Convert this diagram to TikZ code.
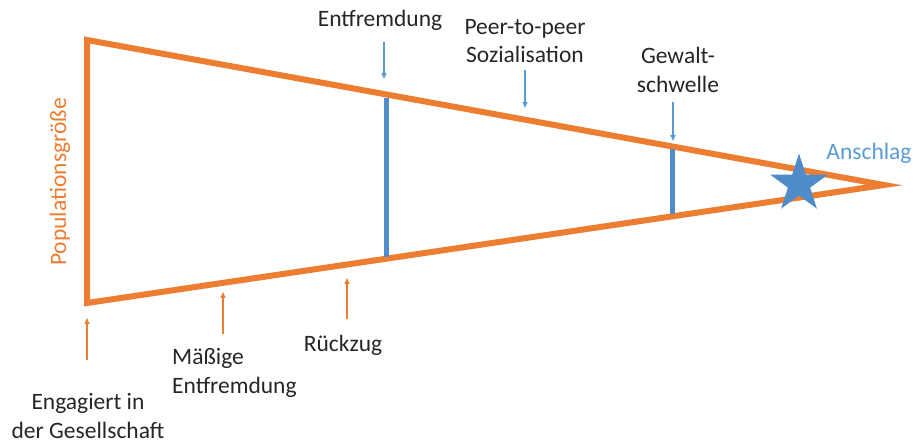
\documentclass[tikz,border=0pt]{standalone}
\usepackage{fontspec}
\setmainfont{Carlito}
\usetikzlibrary{arrows.meta,shapes.geometric}
\definecolor{orng}{HTML}{ED7D31}
\definecolor{blu}{HTML}{5B9BD5}
\definecolor{bard}{HTML}{4F8CC9}
\begin{document}
\begin{tikzpicture}[x=1pt,y=-1pt,
  lbl/.style={font=\fontsize{23.5}{28.5}\selectfont, align=center, inner sep=0pt, text=black!85},
  edge/.style={orng, line width=6pt, line join=miter},
  bar/.style={bard, line width=5pt},
  barr/.style={blu, line width=1.4pt, -{Triangle[length=6pt,width=5pt]}},
  oarr/.style={orng, line width=1.4pt, -{Triangle[length=6pt,width=5pt]}}]
\useasboundingbox (0,0) rectangle (915,443);
\coordinate (TL) at (87,40);
\coordinate (BL) at (87,303);
\coordinate (TIP) at (884,185);
\draw[edge] (TL) -- (TIP) -- (BL) -- cycle;
\path (TL) -- (TIP) coordinate[pos=0.376] (t1) coordinate[pos=0.734] (t2);
\path (BL) -- (TIP) coordinate[pos=0.376] (b1) coordinate[pos=0.734] (b2);
\draw[bar] ([yshift=-3pt]t1) -- ([yshift=2pt]b1);
\draw[bar] ([yshift=-3pt]t2) -- ([yshift=2pt]b2);
\node[star, star points=5, star point ratio=2.618, minimum size=61pt, inner sep=0pt, fill=bard] (st) at (799,184) {};
% labels
\node[lbl] (entf) at (380,20) {Entfremdung};
\node[lbl] (peer) at (525,41) {Peer-to-peer\\Sozialisation};
\node[lbl] (gew) at (678,70) {Gewalt-\\schwelle};
\node[lbl, text=blu] (ans) at (869,153) {Anschlag};
\node[lbl, text=orng, rotate=90] (pop) at (60,182) {Populationsgröße};
\node[lbl] (eng) at (88,416) {Engagiert in\\der Gesellschaft};
\node[lbl, align=left, anchor=west] (mas) at (172,373) {Mäßige\\Entfremdung};
\node[lbl] (rue) at (343,345) {Rückzug};
% arrows
\coordinate (a1s) at (384,42); \coordinate (a1e) at (384,79);
\coordinate (a2s) at (525,70); \coordinate (a2e) at (525,108);
\coordinate (a3s) at (673,102); \coordinate (a3e) at (673,141);
\draw[barr] (a1s) -- (a1e);
\draw[barr] (a2s) -- (a2e);
\draw[barr] (a3s) -- (a3e);
\coordinate (o1s) at (87,360); \coordinate (o1e) at (87,318);
\coordinate (o2s) at (223,334); \coordinate (o2e) at (223,292);
\coordinate (o3s) at (347,319); \coordinate (o3e) at (347,278);
\draw[oarr] (o1s) -- (o1e);
\draw[oarr] (o2s) -- (o2e);
\draw[oarr] (o3s) -- (o3e);
\end{tikzpicture}
\end{document}
